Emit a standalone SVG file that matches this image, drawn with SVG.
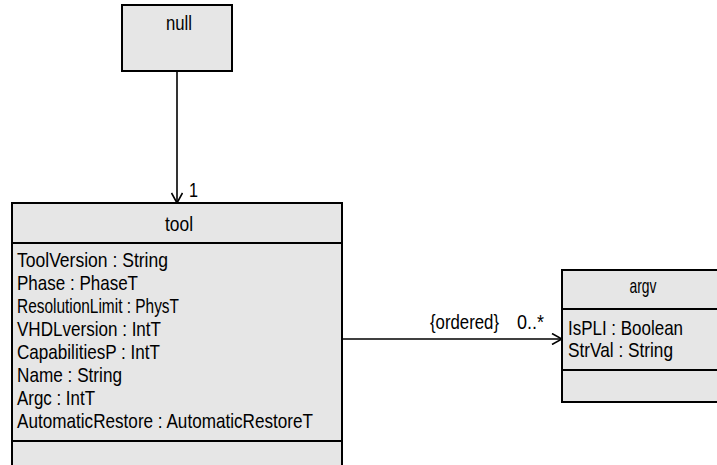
<svg xmlns="http://www.w3.org/2000/svg" width="717" height="465" viewBox="0 0 717 465">
<defs>
<style>
.box{fill:#e6e6e6;stroke:#000;stroke-width:2}
.sep{stroke:#000;stroke-width:2;fill:none}
.t{font-family:"Liberation Sans",Arial,sans-serif;font-size:21px;fill:#000}
.c{text-anchor:middle}
.edge{stroke:#000;stroke-width:1.6;fill:none}
</style>
<marker id="open" viewBox="0 0 12 12" refX="11" refY="6" markerWidth="12" markerHeight="12" markerUnits="userSpaceOnUse" orient="auto">
<path d="M1,0.5 L11,6 L1,11.5" fill="none" stroke="#000" stroke-width="1.6"/>
</marker>
</defs>
<rect width="717" height="465" fill="#fff"/>
<g id="connectors">
<line class="edge" x1="177" y1="71" x2="177" y2="203" marker-end="url(#open)"/>
<text class="t" x="189" y="197" textLength="9" lengthAdjust="spacingAndGlyphs">1</text>
<line class="edge" x1="342" y1="339" x2="562" y2="339" marker-end="url(#open)"/>
<text class="t" x="430" y="329" textLength="69" lengthAdjust="spacingAndGlyphs">{ordered}</text>
<text class="t" x="517" y="329" textLength="27" lengthAdjust="spacingAndGlyphs">0..*</text>
</g>
<g id="node-null">
<rect class="box" x="122" y="5" width="110" height="66"/>
<text class="t c" x="179" y="30" textLength="26" lengthAdjust="spacingAndGlyphs">null</text>
</g>
<g id="node-tool">
<rect class="box" x="12" y="203" width="330" height="270"/>
<line class="sep" x1="12" y1="243" x2="342" y2="243"/>
<line class="sep" x1="12" y1="441" x2="342" y2="441"/>
<text class="t c" x="179" y="231" textLength="28" lengthAdjust="spacingAndGlyphs">tool</text>
<text class="t" x="17" y="267" textLength="151" lengthAdjust="spacingAndGlyphs">ToolVersion : String</text>
<text class="t" x="17" y="290" textLength="121" lengthAdjust="spacingAndGlyphs">Phase : PhaseT</text>
<text class="t" x="17" y="313" textLength="162" lengthAdjust="spacingAndGlyphs">ResolutionLimit : PhysT</text>
<text class="t" x="17" y="336" textLength="144" lengthAdjust="spacingAndGlyphs">VHDLversion : IntT</text>
<text class="t" x="17" y="359" textLength="143" lengthAdjust="spacingAndGlyphs">CapabilitiesP : IntT</text>
<text class="t" x="17" y="382" textLength="105" lengthAdjust="spacingAndGlyphs">Name : String</text>
<text class="t" x="17" y="405" textLength="78" lengthAdjust="spacingAndGlyphs">Argc : IntT</text>
<text class="t" x="17" y="428" textLength="296" lengthAdjust="spacingAndGlyphs">AutomaticRestore : AutomaticRestoreT</text>
</g>
<g id="node-argv">
<rect class="box" x="562" y="270" width="160" height="132"/>
<line class="sep" x1="562" y1="309" x2="722" y2="309"/>
<line class="sep" x1="562" y1="370" x2="722" y2="370"/>
<text class="t c" x="643" y="293" textLength="27" lengthAdjust="spacingAndGlyphs">argv</text>
<text class="t" x="568" y="335" textLength="115" lengthAdjust="spacingAndGlyphs">IsPLI : Boolean</text>
<text class="t" x="568" y="357" textLength="105" lengthAdjust="spacingAndGlyphs">StrVal : String</text>
</g>
</svg>
